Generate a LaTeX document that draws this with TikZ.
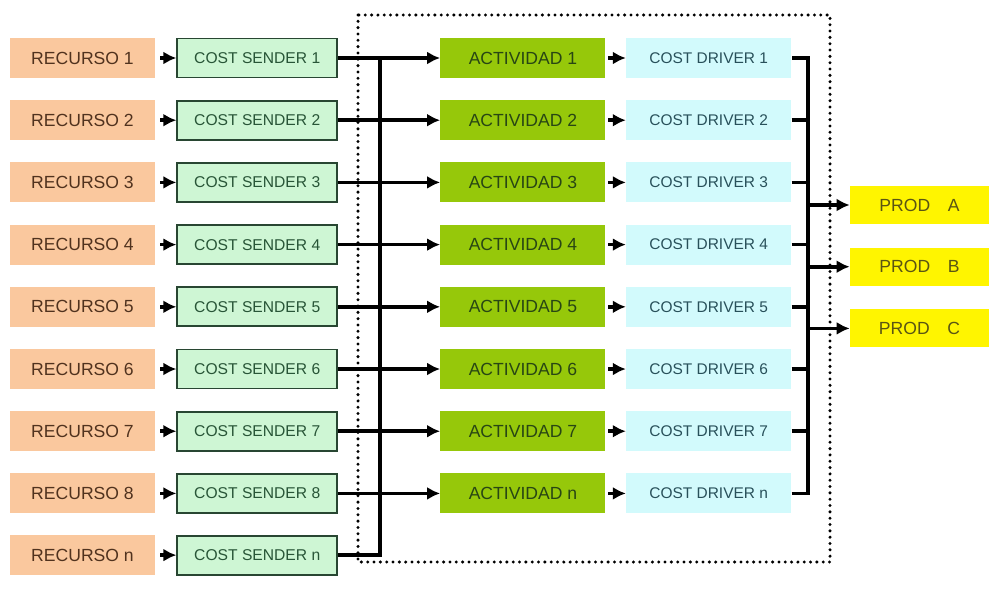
\documentclass[tikz,border=0pt]{standalone}
\usepackage{fontspec}
\setmainfont{Liberation Sans}
\usetikzlibrary{positioning,arrows.meta}
\definecolor{recfill}{RGB}{250,200,158}
\definecolor{rectext}{RGB}{80,50,30}
\definecolor{sendfill}{RGB}{206,246,212}
\definecolor{sendline}{RGB}{40,70,50}
\definecolor{sendtext}{RGB}{40,85,55}
\definecolor{actfill}{RGB}{150,200,10}
\definecolor{acttext}{RGB}{40,70,20}
\definecolor{drvfill}{RGB}{210,250,252}
\definecolor{drvtext}{RGB}{40,80,90}
\definecolor{prodfill}{RGB}{255,245,0}
\definecolor{prodtext}{RGB}{90,85,20}
\tikzset{recurso/.style={rectangle,fill=recfill,text=rectext,inner sep=0pt,minimum width=2.9cm,minimum height=0.8cm,font=\fontsize{10}{12}\selectfont},
	 sender/.style={rectangle,draw=sendline,line width=1pt,fill=sendfill,text=sendtext,inner sep=0pt,minimum width=3.2cm,minimum height=0.78cm,font=\fontsize{8.9}{11}\selectfont},
	 actividad/.style={rectangle,fill=actfill,text=acttext,inner sep=0pt,minimum width=3.3cm,minimum height=0.8cm,font=\fontsize{10}{12}\selectfont},
	 driver/.style={rectangle,fill=drvfill,text=drvtext,inner sep=0pt,minimum width=3.3cm,minimum height=0.8cm,font=\fontsize{8.8}{11}\selectfont},
	 prod/.style={rectangle,fill=prodfill,text=prodtext,inner sep=0pt,minimum width=2.78cm,minimum height=0.76cm,font=\fontsize{10}{12}\selectfont},
	 conn/.style={line width=2.1pt},
	 arr/.style={conn,-{Latex[length=2.6mm,width=2.6mm]}},
	 node distance = 0.43cm
	 }
\begin{document}
\begin{tikzpicture} % costeo ABC
	\useasboundingbox (0,0) rectangle (19.78,-11.8);
	% recursos
        \node[recurso] (r1) at (1.65,-1.16) {RECURSO 1};
        \node[recurso] (r2) [below=of r1] {RECURSO 2};
        \node[recurso] (r3) [below=of r2] {RECURSO 3};
        \node[recurso] (r4) [below=of r3] {RECURSO 4};
        \node[recurso] (r5) [below=of r4] {RECURSO 5};
        \node[recurso] (r6) [below=of r5] {RECURSO 6};
        \node[recurso] (r7) [below=of r6] {RECURSO 7};
        \node[recurso] (r8) [below=of r7] {RECURSO 8};
        \node[recurso] (r9) [below=0.42cm of r8] {RECURSO n};
	% cost senders
        \node[sender] (s1) [right=0.42cm of r1] {COST SENDER 1};
        \node[sender] (s2) [right=0.42cm of r2] {COST SENDER 2};
        \node[sender] (s3) [right=0.42cm of r3] {COST SENDER 3};
        \node[sender] (s4) [right=0.42cm of r4] {COST SENDER 4};
        \node[sender] (s5) [right=0.42cm of r5] {COST SENDER 5};
        \node[sender] (s6) [right=0.42cm of r6] {COST SENDER 6};
        \node[sender] (s7) [right=0.42cm of r7] {COST SENDER 7};
        \node[sender] (s8) [right=0.42cm of r8] {COST SENDER 8};
        \node[sender] (s9) [right=0.42cm of r9] {COST SENDER n};
	% actividades
        \node[actividad] (a1) [right=2.04cm of s1] {ACTIVIDAD 1};
        \node[actividad] (a2) [right=2.04cm of s2] {ACTIVIDAD 2};
        \node[actividad] (a3) [right=2.04cm of s3] {ACTIVIDAD 3};
        \node[actividad] (a4) [right=2.04cm of s4] {ACTIVIDAD 4};
        \node[actividad] (a5) [right=2.04cm of s5] {ACTIVIDAD 5};
        \node[actividad] (a6) [right=2.04cm of s6] {ACTIVIDAD 6};
        \node[actividad] (a7) [right=2.04cm of s7] {ACTIVIDAD 7};
        \node[actividad] (a8) [right=2.04cm of s8] {ACTIVIDAD n};
	% cost drivers
        \node[driver] (d1) [right=0.4cm of a1] {COST DRIVER 1};
        \node[driver] (d2) [right=0.4cm of a2] {COST DRIVER 2};
        \node[driver] (d3) [right=0.4cm of a3] {COST DRIVER 3};
        \node[driver] (d4) [right=0.4cm of a4] {COST DRIVER 4};
        \node[driver] (d5) [right=0.4cm of a5] {COST DRIVER 5};
        \node[driver] (d6) [right=0.4cm of a6] {COST DRIVER 6};
        \node[driver] (d7) [right=0.4cm of a7] {COST DRIVER 7};
        \node[driver] (d8) [right=0.4cm of a8] {COST DRIVER n};
	% productos
        \node[prod] (pa) at (18.39,-4.1) {PROD\hspace{1em}A};
        \node[prod] (pb) [below=0.46cm of pa] {PROD\hspace{1em}B};
        \node[prod] (pc) [below=0.46cm of pb] {PROD\hspace{1em}C};
	% recuadro punteado
        \draw[line width=1.9pt,line cap=round,dash pattern=on 0pt off 3.6pt] (7.16,-0.3) rectangle (16.6,-11.24);
	\coordinate (bl) at (7.6,0);
	\coordinate (br) at (16.16,0);
	\foreach \i in {1,...,9} \draw[arr,shorten <=1mm] (r\i) -- (s\i);
	\foreach \i in {1,...,8} \draw[arr] (s\i) -- (a\i);
	\foreach \i in {1,...,8} \draw[arr,shorten <=0.5mm] (a\i) -- (d\i);
	\draw[conn] (s9.east) -| (bl |- s1.east);
	\draw[conn] (d8.east) -| (br |- d1.east) -- (d1.east);
	\foreach \i in {2,...,7} \draw[conn] (d\i.east) -- (br |- d\i.east);
	\draw[arr] (br |- pa.west) -- (pa);
	\draw[arr] (br |- pb.west) -- (pb);
	\draw[arr] (br |- pc.west) -- (pc);
\end{tikzpicture}
\end{document}
